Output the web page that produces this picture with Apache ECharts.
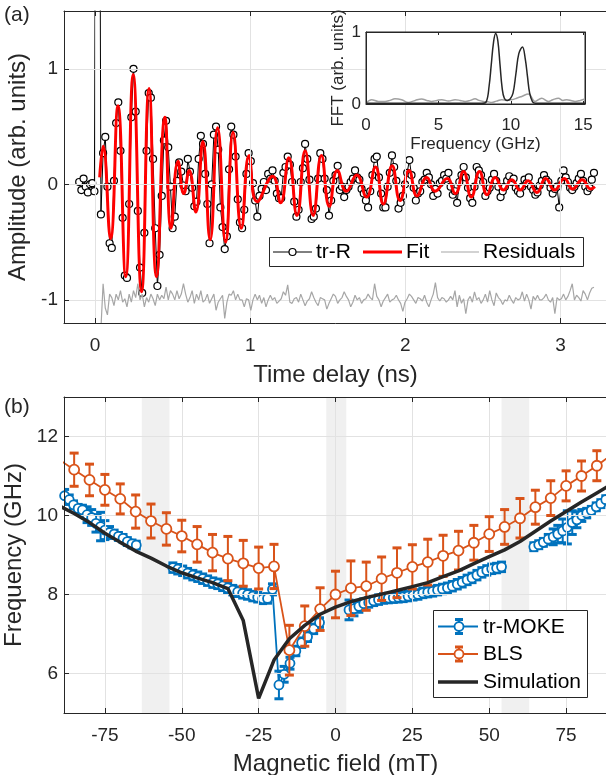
<!DOCTYPE html>
<html><head><meta charset="utf-8">
<script src="https://cdn.jsdelivr.net/npm/echarts@6/dist/echarts.min.js"></script>
<style>html,body{margin:0;padding:0;background:#fff}#c{width:606px;height:775px}</style>
</head><body><div id="c"></div>
<script>
// ---------------- Panel (a): time-resolved reflectivity ----------------
const trTStart = -0.102, trTStep = 0.014;
const trR = [
 0.02,-0.05,0.05,-0.02,-0.07,0.00,0.01,-0.06, 6,6,
 -0.26,0.27,0.41,-0.02,-0.51,-0.55,0.03,0.53,0.71,0.29,-0.29,-0.79,-0.81,-0.17,0.58,1.00,0.63,-0.23,-0.72,-0.94,
 -0.42,0.29,0.79,0.75,0.22,-0.38,-0.88,-0.61,-0.10,0.38,0.55,0.32,-0.02,-0.38,-0.28,0.03,0.19,0.11,-0.01,-0.06,
 0.22,0.11,-0.03,-0.19,-0.15,0.22,0.42,0.35,0.09,-0.17,-0.51,
 0.00,0.43,0.50,0.30,-0.20,-0.37,-0.56,-0.45,0.13,0.50,0.43,0.24,-0.13,-0.33,-0.38,-0.22,0.09,0.27,
 0.20,0.01,-0.14,-0.28,-0.10,-0.04,0.02,-0.05,0.09,0.05,
 0.12,0.03,-0.08,-0.12,-0.12,0.10,0.15,0.24,0.17,0.02,
 -0.15,-0.28,-0.22,0.02,0.14,0.35,0.22,0.04,-0.30,-0.28,
 -0.21,0.05,0.27,0.22,0.05,-0.05,-0.27,-0.14,0.03,0.08,
 0.16,-0.05,-0.02,-0.11,-0.05,-0.02,0.02,0.05,0.12,0.06,
 0.04,-0.04,-0.08,-0.14,-0.20,-0.06,0.08,0.22,0.24,0.06,
 -0.08,-0.20,-0.20,-0.02,0.10,0.25,0.15,0.03,-0.21,-0.16,
 -0.10,0.00,0.10,0.21,0.08,-0.03,-0.14,-0.08,-0.06,0.02,
 0.04,0.10,0.06,0.00,-0.10,-0.04,-0.08,0.01,0.03,0.08,
 0.05,0.10,-0.02,-0.09,-0.06,-0.16,0.02,0.08,0.15,0.06,
 -0.03,-0.12,-0.16,-0.02,0.15,0.12,0.08,0.02,-0.10,-0.06,
 -0.03,0.04,0.09,0.03,-0.02,-0.11,-0.06,-0.02,0.03,0.07,
 0.02,0.05,-0.03,-0.06,-0.08,-0.02,0.04,0.01,0.06,-0.02,
 -0.05,-0.09,-0.07,-0.01,0.03,0.08,0.04,0.02,-0.03,-0.08,
 -0.04,-0.02,-0.20,0.03,0.12,0.06,0.02,-0.03,-0.05,-0.02,
 0.01,0.05,0.09,0.03,-0.02,-0.06,-0.03,0.04,0.10
];
const resStartIndex = 10;
const residuals = [
 -1.25,-0.86,-1.07,-1.13,-0.95,-0.98,-1.05,-0.95,-1.00,-0.92,
 -1.02,-0.99,-1.06,-0.95,-1.02,-0.92,-0.98,-0.86,-1.00,-0.95,
 -1.06,-0.98,-1.02,-0.95,-0.99,-1.05,-0.95,-1.00,-0.96,-0.99,
 -0.89,-1.00,-0.92,-0.95,-1.00,-0.92,-0.99,-0.95,-0.86,-0.95,
 -1.02,-0.98,-0.92,-1.03,-0.95,-1.00,-0.92,-1.02,-1.00,-0.95,
 -1.03,-0.99,-0.95,-1.09,-1.02,-0.99,-0.96,-1.16,-1.02,-0.95,
 -0.96,-0.92,-1.00,-0.95,-1.00,-1.00,-1.06,-0.99,-1.00,-1.09,
 -1.00,-0.95,
 -1.00,-0.96,-1.03,-0.98,-1.06,-1.00,-0.96,-1.00,-0.98,-1.03,
 -1.01,-0.99,-0.93,-0.96,-0.87,-1.02,-1.03,-0.99,-0.98,-1.02,
 -0.95,-1.00,-1.05,-1.01,-0.99,-0.93,-0.98,-1.02,-1.05,-0.98,
 -0.99,-1.00,-1.08,-1.03,-0.99,-0.95,-0.97,-1.03,-1.00,-0.98,
 -0.93,-0.97,-1.00,-1.06,-1.02,-0.96,-1.00,-0.98,-1.03,-1.00,
 -0.99,-0.95,-0.98,-1.00,-0.86,-0.97,-1.00,-1.06,-1.01,-0.98,
 -0.95,-1.02,-1.00,-0.99,-0.96,-1.00,-1.03,-1.10,-1.02,-0.99,
 -0.95,-0.97,-1.00,-1.03,-0.98,-0.99,-1.01,-0.96,-1.02,-1.06,
 -1.00,-0.95,-0.85,-0.98,-1.01,-0.98,-0.99,-1.02,-1.00,-0.97,
 -1.00,-0.92,-1.06,-0.96,-1.03,-0.99,-1.12,-1.00,-0.97,-1.02,
 -0.93,-1.00,-0.98,-1.03,-1.00,-0.95,-1.02,-0.92,-1.00,-1.05,
 -0.94,-0.98,-1.00,-1.04,-1.00,-1.01,-0.96,-1.00,-1.03,-0.98,
 -1.00,-0.99,-0.93,-1.01,-0.95,-1.00,-1.08,-0.97,-1.00,-0.96,
 -1.00,-1.00,-0.98,-0.95,-1.00,-1.02,-0.98,-1.12,-0.98,-1.00,
 -0.99,-0.95,-1.00,-0.97,-0.92,-0.86,-1.00,-0.96,-0.98,-1.01,
 -0.92,-0.95,-1.00,-0.94,-0.90,-0.89
];
const fitT = [0.030,0.052,0.100,0.148,0.198,0.246,0.300,0.348,0.396,0.450,
 0.490,0.535,0.572,0.607,0.650,0.695,0.742,0.790,0.842,0.890,
 0.943,0.993,1.045,1.145,1.196,1.249,1.302,1.354,1.406,1.459,
 1.510,1.562,1.620,1.687,1.750,1.808,1.858,1.915,1.966,2.024,
 2.075,2.138,2.192,2.270,2.322,2.375,2.425,2.478,2.527,2.580,
 2.632,2.686,2.740,2.792,2.848,2.905,2.962,3.025,3.078,3.140,
 3.195,3.222];
const fitV = [0.06,0.33,-0.47,0.68,-0.80,0.95,-0.93,0.83,-0.80,0.58,
 -0.38,0.20,-0.08,0.12,-0.24,0.37,-0.48,0.49,-0.50,0.45,
 -0.38,0.25,-0.15,0.07,-0.16,0.23,-0.27,0.29,-0.27,0.25,
 -0.19,0.12,-0.06,0.08,-0.11,0.15,-0.17,0.16,-0.14,0.12,
 -0.10,0.06,-0.06,0.05,-0.08,0.11,-0.11,0.11,-0.09,0.06,
 -0.05,0.04,-0.05,0.03,-0.07,0.05,-0.05,0.05,-0.04,0.04,
 -0.04,-0.02];
// inset FFT
const fftFreqBlack = [0,1,2,3,4,5,6,7,8,8.3,8.5,8.65,8.8,8.95,9.1,9.25,9.4,9.55,9.75,9.95,10.15,10.35,10.55,10.8,11.0,11.15,11.3,11.5,11.7,12,13,14,15.12];
const fftBlack = [0.01,0.01,0.01,0.01,0.01,0.01,0.01,0.01,0.01,0.03,0.25,0.55,0.85,0.98,0.88,0.55,0.22,0.08,0.05,0.07,0.15,0.42,0.70,0.79,0.62,0.38,0.15,0.03,0.01,0.01,0.01,0.01,0.01];
const fftFreqGray = [0,0.39,0.85,1.31,1.65,2.0,2.46,2.92,3.4,3.84,4.2,4.53,4.9,5.23,5.7,6.15,6.5,6.84,7.2,7.53,7.8,8.1,8.4,8.68,9.0,9.37,9.7,10.06,10.4,10.75,11.21,11.67,12.13,12.59,12.9,13.28,13.6,13.86,14.2,14.43,14.8,15.12];
const fftGray = [0.014,0.06,0.036,0.036,0.05,0.073,0.06,0.022,0.05,0.069,0.05,0.036,0.05,0.06,0.04,0.06,0.05,0.036,0.05,0.073,0.05,0.036,0.03,0.022,0.04,0.06,0.05,0.06,0.08,0.105,0.14,0.036,0.08,0.036,0.06,0.08,0.05,0.06,0.045,0.036,0.05,0.069];
const xTicksA = [0,1,2,3], yTicksA = [-1,0,1];
const xTicksInset = [0,5,10,15], yTicksInset = [0,1];

// ---------------- Panel (b): frequency vs field ----------------
const mokeField = [-88.1,-86.6,-85.2,-83.7,-82.3,-80.8,-79.3,-77.9,-76.4,-75.0,-73.5,-72.0,-70.6,-69.1,-67.7,-66.2,-64.8, null,
 -52.9,-51.3,-49.7,-48.1,-46.4,-44.8,-43.2,-41.6,-39.9,-38.3,-36.7,-35.1,-33.4,-31.8,-30.2,-28.6,-26.9,-25.3,-23.7,-22.1,-20.5,-18.4,-16.7,-14.8,-12.9,-11.0,-9.1,-7.1,-5.2, null,
 4.4,6.0,7.6,9.2,10.8,12.4,14.0,15.6,17.2,18.8,20.4,22.0,23.6,25.2,26.8,28.4,30.0,31.6,33.2,34.8,36.4,38.0,39.6,41.2,42.8,44.4,46.0,47.6,49.2,50.8,52.4,54.0, null,
 64.5,66.1,67.6,69.2,70.8,72.3,73.9,75.4,77.0,78.5,80.1,81.7,83.2,84.8,86.3,87.9];
const mokeFreq = [10.50,10.40,10.27,10.18,10.14,10.02,9.95,9.80,9.72,9.63,9.57,9.53,9.47,9.42,9.34,9.28,9.25, null,
 8.68,8.64,8.60,8.54,8.49,8.45,8.40,8.35,8.30,8.27,8.22,8.17,8.11,8.07,8.03,8.00,7.96,7.93,7.89,7.90,8.13,5.71,5.98,6.26,6.57,6.78,6.93,7.13,7.29, null,
 7.61,7.64,7.70,7.77,7.80,7.84,7.87,7.90,7.91,7.92,7.93,7.94,7.96,7.98,8.00,8.04,8.06,8.08,8.11,8.14,8.17,8.21,8.26,8.31,8.37,8.42,8.49,8.56,8.61,8.65,8.67,8.70, null,
 9.21,9.26,9.32,9.40,9.46,9.53,9.61,9.70,9.82,9.89,10.00,10.06,10.13,10.22,10.30,10.40];
const mokeErr = [0.16,0.12,0.10,0.10,0.12,0.20,0.20,0.22,0.36,0.24,0.15,0.10,0.10,0.10,0.10,0.10,0.10, null,
 0.12,0.12,0.12,0.12,0.12,0.12,0.12,0.12,0.12,0.12,0.12,0.12,0.12,0.12,0.12,0.12,0.12,0.12,0.12,0.12,0.14,0.35,0.20,0.15,0.12,0.12,0.12,0.12,0.12, null,
 0.25,0.18,0.15,0.12,0.12,0.12,0.12,0.12,0.12,0.12,0.12,0.12,0.12,0.12,0.12,0.12,0.12,0.12,0.12,0.12,0.12,0.12,0.12,0.12,0.12,0.12,0.12,0.12,0.12,0.12,0.12,0.12, null,
 0.10,0.10,0.10,0.12,0.20,0.22,0.30,0.42,0.30,0.20,0.15,0.12,0.10,0.10,0.10,0.10];
const blsField = [-90,-85,-80,-75,-70,-65,-60,-55,-50,-45,-40,-35,-30,-25,-20,-15,-10,-5,0,5,10,15,20,25,30,35,40,45,50,55,60,65,70,75,80,85,90];
const blsFreq = [11.42,11.16,10.90,10.65,10.42,10.10,9.86,9.66,9.48,9.27,9.06,8.91,8.79,8.67,8.71,6.59,7.20,7.63,8.00,8.16,8.21,8.40,8.55,8.70,8.82,8.98,9.11,9.31,9.53,9.71,9.93,10.21,10.44,10.75,11.00,11.26,11.55];
const blsErr = [0.40,0.42,0.40,0.39,0.38,0.42,0.43,0.41,0.40,0.45,0.46,0.56,0.58,0.53,0.56,0.63,0.51,0.54,0.59,0.69,0.61,0.55,0.63,0.56,0.58,0.52,0.49,0.44,0.44,0.44,0.50,0.43,0.44,0.38,0.38,0.38,0.38];
const simField = [-90,-85,-80,-75,-70,-65,-60,-55,-50,-45,-40,-35,-30,-25,-20,-15,-10,-5,0,5,10,15,20,25,30,35,40,45,50,55,60,65,70,75,80,85,90];
const simFreq = [10.25,10.05,9.82,9.55,9.32,9.10,8.92,8.72,8.55,8.42,8.30,8.15,7.34,5.37,6.34,6.88,7.22,7.50,7.68,7.82,7.92,8.01,8.10,8.20,8.30,8.45,8.60,8.78,8.96,9.13,9.34,9.60,9.86,10.10,10.34,10.57,10.80];
const bandsB = [[-63,-54],[-3,3.5],[54,63]];
const xTicksB = [-75,-50,-25,0,25,50,75], yTicksB = [6,8,10,12];

// ---------------- build ----------------
const FONT = "'Liberation Sans', Arial, Helvetica, sans-serif";
const AX = '#262626', GRIDC = '#e2e2e2';
const C_MOKE = '#0072BD', C_BLS = '#D95319', C_SIM = '#262626';

const trData = trR.map((v, i) => [+(trTStart + i * trTStep).toFixed(3), v]);
const resData = residuals.map((v, k) => [trData[k + resStartIndex][0], v]);
const fitData = fitT.map((t, i) => [t, fitV[i]]);
const fftB = fftFreqBlack.map((f, i) => [f, fftBlack[i]]);
const fftG = fftFreqGray.map((f, i) => [f, fftGray[i]]);
const pair = (xs, ys) => xs.map((x, i) => (x === null ? ['-', '-'] : [x, ys[i]]));
const errItems = (xs, ys, es) => xs.map((x, i) => (x === null ? null : [x, ys[i], es[i]])).filter(d => d);

function xAxisDef(gi, min, max, ticks, o) {
  return {
    type: 'value', gridIndex: gi, min, max, position: o.top ? 'top' : 'bottom', z: o.z || 10,
    axisLine: { show: true, onZero: false, lineStyle: { color: AX, width: 1 } },
    axisTick: { show: true, inside: true, length: o.tl || 5, customValues: ticks, lineStyle: { color: AX, width: 1 } },
    axisLabel: { show: !o.top, customValues: ticks, color: AX, fontSize: o.fs || 19, fontFamily: FONT, margin: o.margin || 13 },
    splitLine: { show: false },
    name: o.name || '', nameLocation: 'middle', nameGap: o.nameGap || 40,
    nameTextStyle: { color: AX, fontSize: o.nfs || 24, fontFamily: FONT }
  };
}
function yAxisDef(gi, min, max, ticks, o) {
  return {
    type: 'value', gridIndex: gi, min, max, position: o.right ? 'right' : 'left', z: o.z || 10,
    axisLine: { show: true, onZero: false, lineStyle: { color: AX, width: 1 } },
    axisTick: { show: true, inside: true, length: o.tl || 5, customValues: ticks, lineStyle: { color: AX, width: 1 } },
    axisLabel: { show: !o.right, customValues: ticks, color: AX, fontSize: o.fs || 19, fontFamily: FONT, margin: o.margin || 6 },
    splitLine: { show: false },
    name: o.name || '', nameLocation: 'middle', nameGap: o.nameGap || 30,
    nameTextStyle: { color: AX, fontSize: o.nfs || 24, fontFamily: FONT }
  };
}
function errRender(color) {
  return function (params, api) {
    const x = api.value(0), y = api.value(1), e = api.value(2);
    const a = api.coord([x, y + e]), b = api.coord([x, y - e]);
    const cw = 4.5;
    return { type: 'group', children: [
      { type: 'line', shape: { x1: a[0], y1: a[1], x2: b[0], y2: b[1] }, style: { stroke: color, lineWidth: 2 } },
      { type: 'line', shape: { x1: a[0] - cw, y1: a[1], x2: a[0] + cw, y2: a[1] }, style: { stroke: color, lineWidth: 3 } },
      { type: 'line', shape: { x1: b[0] - cw, y1: b[1], x2: b[0] + cw, y2: b[1] }, style: { stroke: color, lineWidth: 3 } }
    ] };
  };
}
const gridLines = (xs, ys) => xs.map(v => ({ xAxis: v })).concat(ys.map(v => ({ yAxis: v })));

const chart = echarts.init(document.getElementById('c'), null, { renderer: 'canvas' });
const LZ = 100;
const txt = (x, y, s) => ({ type: 'text', x, y, z: LZ + 2, style: { text: s, fontSize: 21, fontFamily: FONT, fill: '#000', verticalAlign: 'middle', textVerticalAlign: 'middle' } });
const ln = (x1, y1, x2, y2, c, w) => ({ type: 'line', z: LZ + 1, shape: { x1, y1, x2, y2 }, style: { stroke: c, lineWidth: w } });
const option = {
  animation: false,
  backgroundColor: '#fff',
  textStyle: { fontFamily: FONT },
  grid: [
    { left: 64, right: -1, top: 11, height: 312, outerBoundsMode: 'none', containLabel: false },
    { left: 64, right: -1, top: 397, height: 316, outerBoundsMode: 'none', containLabel: false },
    { left: 366, top: 32, width: 219, height: 72, show: true, backgroundColor: '#fff', borderColor: AX, borderWidth: 1, z: 20, outerBoundsMode: 'none', containLabel: false }
  ],
  xAxis: [
    xAxisDef(0, -0.2, 3.3, xTicksA, { name: 'Time delay (ns)', nameGap: 40 }),
    xAxisDef(0, -0.2, 3.3, xTicksA, { top: true }),
    xAxisDef(1, -88.3, 88.3, xTicksB, { name: 'Magnetic field (mT)', nameGap: 39 }),
    xAxisDef(1, -88.3, 88.3, xTicksB, { top: true }),
    xAxisDef(2, 0, 15.12, xTicksInset, { name: 'Frequency (GHz)', nameGap: 32, fs: 17, nfs: 17, margin: 13, tl: 3, z: 25 }),
    xAxisDef(2, 0, 15.12, xTicksInset, { top: true, tl: 3, z: 25 })
  ],
  yAxis: [
    yAxisDef(0, -1.2, 1.5, yTicksA, { name: 'Amplitude (arb. units)' }),
    yAxisDef(1, 5, 13, yTicksB, { name: 'Frequency (GHz)' }),
    yAxisDef(2, 0, 1, yTicksInset, { name: 'FFT (arb. units)', nameGap: 19, fs: 17, nfs: 17, margin: 5, tl: 3, z: 25 }),
    yAxisDef(2, 0, 1, yTicksInset, { right: true, tl: 3, z: 25 })
  ],
  series: [
    // panel (a)
    { type: 'line', xAxisIndex: 0, yAxisIndex: 0, data: [], z: 1, silent: true,
      markLine: { silent: true, symbol: ['none', 'none'], label: { show: false },
        lineStyle: { color: GRIDC, width: 1, type: 'solid' }, data: gridLines(xTicksA, yTicksA) } },
    { name: 'tr-R', type: 'line', xAxisIndex: 0, yAxisIndex: 0, data: trData, z: 3, clip: true,
      symbol: 'circle', symbolSize: 7, showAllSymbol: true,
      itemStyle: { color: '#fff', borderColor: '#000', borderWidth: 1.2 },
      lineStyle: { color: '#000', width: 1 } },
    { name: 'Fit', type: 'line', xAxisIndex: 0, yAxisIndex: 0, data: fitData, z: 4, clip: true,
      symbol: 'none', smooth: 0.5, lineStyle: { color: '#ff0000', width: 3 } },
    { name: 'Residuals', type: 'line', xAxisIndex: 0, yAxisIndex: 0, data: resData, z: 5, clip: true,
      symbol: 'none', lineStyle: { color: '#a6a6a6', width: 1.2 } },
    // inset
    { type: 'line', xAxisIndex: 4, yAxisIndex: 2, data: fftG, z: 22, symbol: 'none', smooth: 0.4,
      lineStyle: { color: '#a0a0a0', width: 1.5 } },
    { type: 'line', xAxisIndex: 4, yAxisIndex: 2, data: fftB, z: 23, symbol: 'none', smooth: 0.4,
      lineStyle: { color: '#262626', width: 1.5 } },
    // panel (b)
    { type: 'line', xAxisIndex: 2, yAxisIndex: 1, data: [], z: 1, silent: true,
      markArea: { silent: true, itemStyle: { color: '#f0f0f0' },
        data: bandsB.map(b => [{ xAxis: b[0] }, { xAxis: b[1] }]) } },
    { type: 'line', xAxisIndex: 2, yAxisIndex: 1, data: [], z: 2, silent: true,
      markLine: { silent: true, symbol: ['none', 'none'], label: { show: false },
        lineStyle: { color: GRIDC, width: 1, type: 'solid' }, data: gridLines(xTicksB, yTicksB) } },
    { type: 'custom', xAxisIndex: 2, yAxisIndex: 1, z: 3, clip: true,
      data: errItems(mokeField, mokeFreq, mokeErr), encode: { x: 0, y: 1 }, renderItem: errRender(C_MOKE) },
    { name: 'tr-MOKE', type: 'line', xAxisIndex: 2, yAxisIndex: 1, z: 4, clip: true,
      data: pair(mokeField, mokeFreq), connectNulls: false,
      symbol: 'circle', symbolSize: 9, showAllSymbol: true,
      itemStyle: { color: '#fff', borderColor: C_MOKE, borderWidth: 1.8 },
      lineStyle: { color: C_MOKE, width: 1.8 } },
    { type: 'custom', xAxisIndex: 2, yAxisIndex: 1, z: 5, clip: true,
      data: errItems(blsField, blsFreq, blsErr), encode: { x: 0, y: 1 }, renderItem: errRender(C_BLS) },
    { name: 'BLS', type: 'line', xAxisIndex: 2, yAxisIndex: 1, z: 6, clip: true,
      data: pair(blsField, blsFreq),
      symbol: 'circle', symbolSize: 10, showAllSymbol: true,
      itemStyle: { color: '#fff', borderColor: C_BLS, borderWidth: 1.8 },
      lineStyle: { color: C_BLS, width: 1.8 } },
    { name: 'Simulation', type: 'line', xAxisIndex: 2, yAxisIndex: 1, z: 7, clip: true,
      data: pair(simField, simFreq), symbol: 'none', lineStyle: { color: C_SIM, width: 3.5 } }
  ],
  graphic: [
    { type: 'text', x: 4, y: 5, z: LZ, style: { text: '(a)', fontSize: 21, fontFamily: FONT, fill: AX } },
    { type: 'text', x: 4, y: 397, z: LZ, style: { text: '(b)', fontSize: 21, fontFamily: FONT, fill: AX } },
    // legend (a)
    { type: 'rect', z: LZ, shape: { x: 269.5, y: 237.5, width: 314, height: 29 }, style: { fill: '#fff', stroke: AX, lineWidth: 1 } },
    ln(273, 252, 312, 252, '#000', 1),
    { type: 'circle', z: LZ + 2, shape: { cx: 292.5, cy: 252, r: 3.5 }, style: { fill: '#fff', stroke: '#000', lineWidth: 1.2 } },
    txt(316, 252, 'tr-R'),
    ln(363, 252, 402, 252, '#ff0000', 3),
    txt(406, 252, 'Fit'),
    ln(441, 252, 479, 252, '#a6a6a6', 1.2),
    txt(483, 252, 'Residuals'),
    // legend (b)
    { type: 'rect', z: LZ, shape: { x: 433.5, y: 610.5, width: 154, height: 87 }, style: { fill: '#fff', stroke: AX, lineWidth: 1 } },
    ln(438, 626.5, 478, 626.5, C_MOKE, 1.8),
    ln(459, 619.5, 459, 633.5, C_MOKE, 2),
    ln(455, 619.5, 463, 619.5, C_MOKE, 3),
    ln(455, 633.5, 463, 633.5, C_MOKE, 3),
    { type: 'circle', z: LZ + 2, shape: { cx: 459, cy: 626.5, r: 4.5 }, style: { fill: '#fff', stroke: C_MOKE, lineWidth: 1.8 } },
    txt(483, 627, 'tr-MOKE'),
    ln(438, 654, 478, 654, C_BLS, 1.8),
    ln(459, 647, 459, 661, C_BLS, 2),
    ln(455, 647, 463, 647, C_BLS, 3),
    ln(455, 661, 463, 661, C_BLS, 3),
    { type: 'circle', z: LZ + 2, shape: { cx: 459, cy: 654, r: 4.5 }, style: { fill: '#fff', stroke: C_BLS, lineWidth: 1.8 } },
    txt(483, 654.5, 'BLS'),
    ln(438, 682, 478, 682, C_SIM, 3.5),
    txt(483, 682.5, 'Simulation')
  ]
};
chart.setOption(option);
</script>
</body></html>
